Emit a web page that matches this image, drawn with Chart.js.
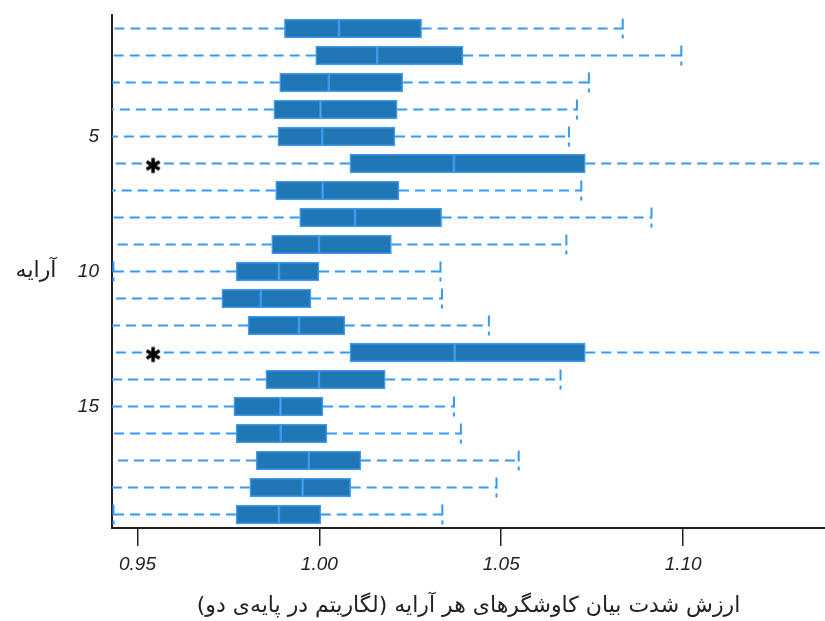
<!DOCTYPE html>
<html>
<head>
  <meta charset="utf-8">
  <title>Array boxplots</title>
  <script src="https://cdn.jsdelivr.net/npm/chart.js"></script>
  <style>
    body { margin: 0; background: #fff; }
    canvas { display: block; }
  </style>
</head>
<body>
  <canvas id="boxChart" width="825" height="621"></canvas>

  <script>
    // one row per array, top to bottom
    const rows = ['1','2','3','4','5','6','7','8','9','10','11','12','13','14','15','16','17','18','19'];
    const shownRows = ['5', '10', '15'];
    const whiskerLow  = [0.940, 0.940, 0.940, 0.940, 0.940, 0.940, 0.940, 0.940, 0.940, 0.9434, 0.940, 0.940, 0.940, 0.940, 0.940, 0.940, 0.940, 0.940, 0.9434];
    const q1          = [0.9904, 0.9990, 0.9891, 0.9875, 0.9886, 1.0084, 0.9880, 0.9946, 0.9869, 0.9771, 0.9732, 0.9804, 1.0084, 0.9853, 0.9765, 0.9771, 0.9826, 0.9809, 0.9771];
    const median      = [1.0054, 1.0159, 1.0026, 1.0003, 1.0008, 1.0370, 1.0009, 1.0098, 0.9999, 0.9889, 0.9839, 0.9944, 1.0372, 0.9999, 0.9893, 0.9894, 0.9971, 0.9954, 0.9889];
    const q3          = [1.0281, 1.0395, 1.0229, 1.0214, 1.0208, 1.0731, 1.0219, 1.0336, 1.0198, 0.9999, 0.9977, 1.0070, 1.0731, 1.0181, 1.0010, 1.0021, 1.0114, 1.0086, 1.0004];
    const whiskerHigh = [1.0834, 1.0995, 1.0741, 1.0708, 1.0686, 1.150, 1.0720, 1.0913, 1.0679, 1.0333, 1.0337, 1.0466, 1.150, 1.0663, 1.0370, 1.0389, 1.0548, 1.0487, 1.0338];
    const outlierRows = ['6', '13'];
    const outlierValues = [0.9543, 0.9543];
    const xTicks = [0.95, 1.00, 1.05, 1.10];

    const xTitle = 'ارزش شدت بیان کاوشگرهای هر آرایه (لگاریتم در پایه‌ی دو)\u200F';
    const yTitle = 'آرایه';

    const boxFill = '#2176b5';
    const boxEdge = '#3d9cf2';
    const whiskerColor = '#3399ff';
    const axisColor = '#222';
    const tickFont = { family: 'Liberation Sans', size: 19, style: 'italic' };

    // asterisk marker for the outliers
    function makeStar() {
      const c = document.createElement('canvas');
      c.width = 22; c.height = 26;
      const g = c.getContext('2d');
      g.strokeStyle = '#000';
      g.lineWidth = 3.5;
      const cx = 11, cy = 15, r = 7.5;
      [90, 30, 150].forEach(a => {
        const rad = a * Math.PI / 180;
        g.beginPath();
        g.moveTo(cx - r * Math.cos(rad), cy + r * Math.sin(rad));
        g.lineTo(cx + r * Math.cos(rad), cy - r * Math.sin(rad));
        g.stroke();
      });
      return c;
    }

    // dashed whiskers and caps, drawn under the boxes
    const whiskers = {
      id: 'whiskers',
      beforeDatasetsDraw(chart) {
        const { ctx, chartArea: a, scales: { x, y } } = chart;
        ctx.save();
        ctx.beginPath();
        ctx.rect(a.left, a.top, a.right - a.left, a.bottom - a.top);
        ctx.clip();
        ctx.strokeStyle = whiskerColor;
        ctx.lineWidth = 2;
        const line = (x0, y0, x1, y1, dash) => {
          ctx.setLineDash(dash);
          ctx.beginPath();
          ctx.moveTo(x0, y0);
          ctx.lineTo(x1, y1);
          ctx.stroke();
        };
        rows.forEach((r, i) => {
          const py = y.getPixelForValue(i);
          const lo = x.getPixelForValue(whiskerLow[i]);
          const hi = x.getPixelForValue(whiskerHigh[i]);
          line(x.getPixelForValue(q1[i]), py, lo, py, [10, 6]);
          line(x.getPixelForValue(q3[i]), py, hi, py, [10, 6]);
          line(lo, py - 10, lo, py + 10, [11, 5]);
          line(hi, py - 10, hi, py + 10, [11, 5]);
        });
        ctx.restore();
      },
      afterDraw(chart) {
        const { ctx, scales: { y } } = chart;
        ctx.save();
        ctx.font = '22px "DejaVu Sans"';
        ctx.fillStyle = axisColor;
        ctx.textAlign = 'center';
        ctx.textBaseline = 'middle';
        ctx.fillText(yTitle, 36, (y.top + y.bottom) / 2);
        ctx.restore();
      }
    };

    const boxStyle = {
      backgroundColor: boxFill,
      borderColor: boxEdge,
      borderWidth: 1.5,
      borderSkipped: false,
      barThickness: 19,
      grouped: false
    };

    new Chart(document.getElementById('boxChart'), {
      type: 'bar',
      data: {
        labels: rows,
        datasets: [
          { label: 'q1-median', data: rows.map((r, i) => [q1[i], median[i]]), ...boxStyle },
          { label: 'median-q3', data: rows.map((r, i) => [median[i], q3[i]]), ...boxStyle },
          {
            type: 'scatter',
            label: 'outliers',
            data: outlierRows.map((r, i) => ({ x: outlierValues[i], y: r })),
            pointStyle: makeStar(),
            pointRadius: 8
          }
        ]
      },
      options: {
        indexAxis: 'y',
        responsive: false,
        animation: false,
        layout: { autoPadding: false, padding: { top: 15, right: 0, left: 0, bottom: 0 } },
        plugins: { legend: { display: false }, tooltip: { enabled: false } },
        scales: {
          x: {
            type: 'linear',
            min: 0.943,
            max: 1.139,
            afterBuildTicks: s => { s.ticks = xTicks.map(v => ({ value: v })); },
            afterFit: s => { s.height = 93; s.paddingLeft = 0; s.paddingRight = 0; },
            grid: { drawOnChartArea: false, drawTicks: true, tickLength: 18, color: axisColor, lineWidth: 1.5 },
            border: { display: true, color: axisColor, width: 2 },
            ticks: { font: tickFont, color: axisColor, padding: 7, maxRotation: 0, callback: v => Number(v).toFixed(2) },
            title: {
              display: true,
              text: xTitle,
              color: axisColor,
              font: { family: 'DejaVu Sans', size: 22 },
              padding: { top: 6, bottom: 2 }
            }
          },
          y: {
            type: 'category',
            offset: true,
            afterFit: s => { s.width = 112; s.paddingTop = 0; s.paddingBottom = 0; },
            grid: { display: false, drawTicks: false },
            border: { display: true, color: axisColor, width: 2 },
            ticks: {
              font: tickFont,
              color: axisColor,
              padding: 13,
              autoSkip: false,
              callback: (v, i) => shownRows.includes(rows[i]) ? rows[i] : ''
            }
          }
        }
      },
      plugins: [whiskers]
    });
  </script>
</body>
</html>
